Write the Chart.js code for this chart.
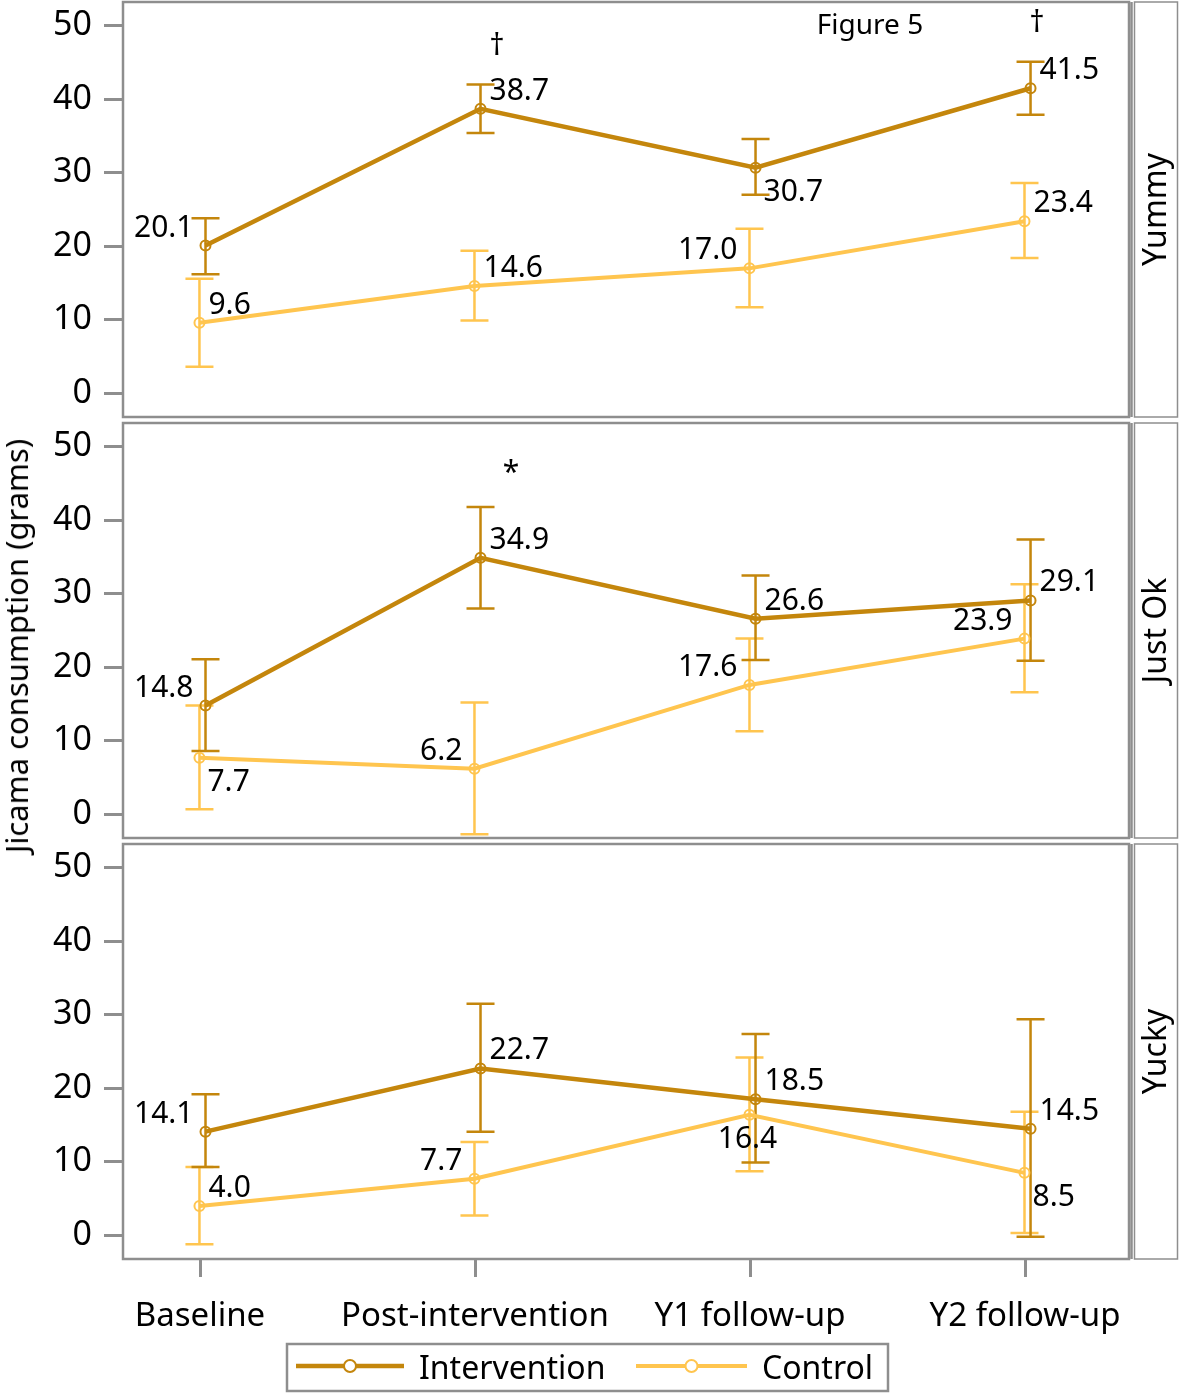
<!DOCTYPE html>
<html lang="en">
<head>
<meta charset="UTF-8">
<title>Figure 5</title>
<script src="https://cdn.jsdelivr.net/npm/chart.js@4.4.1/dist/chart.umd.min.js"></script>
<style>
  body { margin: 0; background: #fff; font-family: "Noto Sans", sans-serif; }
  #wrap { position: relative; width: 1181px; height: 1393px; }
  .panel { position: absolute; left: 0; width: 1181px; }
  #ytitle { position: absolute; left: 16px; top: 646px; transform: translate(-50%, -50%) rotate(-90deg);
            font-size: 31px; white-space: nowrap; color: #000; }
  #fig { position: absolute; left: 870px; top: 23px; transform: translate(-50%, -50%);
         font-size: 28px; white-space: nowrap; color: #000; }
</style>
</head>
<body>
<div id="wrap">
  <div class="panel" style="top:0;height:421px"><canvas id="c0"></canvas></div>
  <div class="panel" style="top:421px;height:421px"><canvas id="c1"></canvas></div>
  <div class="panel" style="top:842px;height:551px"><canvas id="c2"></canvas></div>
  <div id="ytitle">Jicama consumption (grams)</div>
  <div id="fig">Figure 5</div>
</div>

<script>
// categories and tick labels
const categories = ['Baseline', 'Post-intervention', 'Y1 follow-up', 'Y2 follow-up'];
const panelNames = ['Yummy', 'Just Ok', 'Yucky'];
const yTicks = [0, 10, 20, 30, 40, 50];

// Yummy
const yummyInt   = [20.1, 38.7, 30.7, 41.5];
const yummyIntLo = [16.2, 35.4, 27.0, 37.9];
const yummyIntHi = [23.8, 42.0, 34.6, 45.1];
const yummyCtl   = [9.6, 14.6, 17.0, 23.4];
const yummyCtlLo = [3.6, 9.9, 11.7, 18.4];
const yummyCtlHi = [15.6, 19.4, 22.4, 28.6];

// Just Ok
const justOkInt   = [14.8, 34.9, 26.6, 29.1];
const justOkIntLo = [8.6, 28.0, 21.0, 20.9];
const justOkIntHi = [21.1, 41.8, 32.5, 37.4];
const justOkCtl   = [7.7, 6.2, 17.6, 23.9];
const justOkCtlLo = [0.7, -2.7, 11.3, 16.6];
const justOkCtlHi = [14.8, 15.2, 23.9, 31.3];

// Yucky
const yuckyInt   = [14.1, 22.7, 18.5, 14.5];
const yuckyIntLo = [9.3, 14.1, 9.9, -0.2];
const yuckyIntHi = [19.2, 31.5, 27.4, 29.4];
const yuckyCtl   = [4.0, 7.7, 16.4, 8.5];
const yuckyCtlLo = [-1.2, 2.7, 8.7, 0.3];
const yuckyCtlHi = [9.3, 12.7, 24.2, 16.8];

// significance marks: panel, category, symbol
const sigPanel = [0, 0, 1];
const sigCat   = [1, 3, 1];
const sigText  = ['\u2020', '\u2020', '*'];

// ---- styling / layout ----
const FONT = '"Noto Sans", sans-serif';
const intColor = '#c4860c';
const ctlColor = '#ffc54f';
const gray = '#8e8e8e';
const sigNudge = [22, 12, 36];          // px right of the category
// label placement per point (ur, ul, lr, b)
const intPlace = [['ul','ur','lr','ur'], ['ul','ur','ur','ur'], ['ul','ur','ur','ur']];
const ctlPlace = [['ur','ur','ul','ur'], ['lr','ul','ul','ul'], ['ur','ul','b','lr']];

Chart.defaults.font.family = FONT;
Chart.defaults.color = '#000';

const panelData = [
  [yummyInt, yummyIntLo, yummyIntHi, yummyCtl, yummyCtlLo, yummyCtlHi],
  [justOkInt, justOkIntLo, justOkIntHi, justOkCtl, justOkCtlLo, justOkCtlHi],
  [yuckyInt, yuckyIntLo, yuckyIntHi, yuckyCtl, yuckyCtlLo, yuckyCtlHi]
];

const errorBars = {
  id: 'errorBars',
  beforeDatasetsDraw(chart) {
    const {ctx, scales: {x, y}} = chart;
    chart.data.datasets.slice().reverse().forEach(ds => {
      ctx.save();
      ctx.strokeStyle = ds.borderColor;
      ctx.lineWidth = 2.5;
      ds.data.forEach((pt, i) => {
        const px = x.getPixelForValue(pt.x);
        const top = y.getPixelForValue(ds.hi[i]);
        const bot = y.getPixelForValue(ds.lo[i]);
        ctx.beginPath();
        ctx.moveTo(px, top); ctx.lineTo(px, bot);
        ctx.moveTo(px - 14, top); ctx.lineTo(px + 14, top);
        ctx.moveTo(px - 14, bot); ctx.lineTo(px + 14, bot);
        ctx.stroke();
      });
      ctx.restore();
    });
  }
};

const valueLabels = {
  id: 'valueLabels',
  afterDatasetsDraw(chart) {
    const {ctx, scales: {x, y}} = chart;
    ctx.save();
    ctx.font = '30px ' + FONT;
    ctx.fillStyle = '#000';
    ctx.textBaseline = 'alphabetic';
    chart.data.datasets.forEach(ds => {
      ds.data.forEach((pt, i) => {
        const px = x.getPixelForValue(pt.x), py = y.getPixelForValue(pt.y);
        const txt = pt.y.toFixed(1);
        const p = ds.place[i];
        if (p === 'ur') { ctx.textAlign = 'left'; ctx.fillText(txt, px + 9, py - 9); }
        else if (p === 'ul') { ctx.textAlign = 'right'; ctx.fillText(txt, px - 12, py - 9); }
        else if (p === 'lr') { ctx.textAlign = 'left'; ctx.fillText(txt, px + 8, py + 33); }
        else { ctx.textAlign = 'center'; ctx.fillText(txt, px - 2, py + 33); }
      });
    });
    ctx.restore();
  }
};

const sigMarks = {
  id: 'sigMarks',
  afterDatasetsDraw(chart, args, opts) {
    const {ctx, scales: {x, y}} = chart;
    const hi = chart.data.datasets[0].hi;
    ctx.save();
    ctx.font = '30px ' + FONT;
    ctx.fillStyle = '#000';
    ctx.textAlign = 'center';
    sigPanel.forEach((p, k) => {
      if (p !== opts.panel) return;
      const c = sigCat[k];
      const cx = x.getPixelForValue(c) + sigNudge[k];
      const cy = y.getPixelForValue(hi[c]) - 41;
      const m = ctx.measureText(sigText[k]);
      ctx.fillText(sigText[k], cx, cy + (m.actualBoundingBoxAscent - m.actualBoundingBoxDescent) / 2);
    });
    ctx.restore();
  }
};

const frameStrip = {
  id: 'frameStrip',
  afterDraw(chart, args, opts) {
    const {ctx, chartArea: a} = chart;
    ctx.save();
    ctx.strokeStyle = gray;
    ctx.lineWidth = 2.5;
    ctx.strokeRect(a.left, a.top, a.right - a.left, a.bottom - a.top);
    ctx.beginPath();
    ctx.moveTo(a.right + 2.5, a.top); ctx.lineTo(a.right + 2.5, a.bottom);
    ctx.stroke();
    ctx.lineWidth = 1.5;
    ctx.strokeRect(a.right + 5.5, a.top, 43, a.bottom - a.top);
    ctx.fillStyle = '#000';
    ctx.font = '32px ' + FONT;
    ctx.translate(a.right + 28, (a.top + a.bottom) / 2);
    ctx.rotate(-Math.PI / 2);
    ctx.textAlign = 'center';
    ctx.textBaseline = 'middle';
    ctx.fillText(opts.label, 0, 0);
    ctx.restore();
  }
};

const boxLegend = {
  id: 'boxLegend',
  afterDraw(chart) {
    const ctx = chart.ctx;
    ctx.save();
    ctx.strokeStyle = gray;
    ctx.lineWidth = 2.5;
    ctx.strokeRect(287, 502, 601, 47);
    const items = [
      {ds: chart.data.datasets[0], x0: 296, x1: 404, tx: 419},
      {ds: chart.data.datasets[1], x0: 636, x1: 747, tx: 762}
    ];
    items.forEach(it => {
      const ly = 524;
      ctx.strokeStyle = it.ds.borderColor;
      ctx.lineWidth = it.ds.borderWidth;
      ctx.beginPath(); ctx.moveTo(it.x0, ly); ctx.lineTo(it.x1, ly); ctx.stroke();
      ctx.lineWidth = 2;
      ctx.fillStyle = '#fff';
      ctx.beginPath(); ctx.arc((it.x0 + it.x1) / 2, ly, 6, 0, Math.PI * 2); ctx.fill(); ctx.stroke();
      ctx.fillStyle = '#000';
      ctx.font = '32px ' + FONT;
      ctx.textAlign = 'left';
      ctx.textBaseline = 'alphabetic';
      ctx.fillText(it.ds.label, it.tx, 537);
    });
    ctx.restore();
  }
};

// no extra room for tick labels hanging past the plot edges
function noOverflow(s) {
  s.paddingTop = 0; s.paddingBottom = 0; s.paddingLeft = 0; s.paddingRight = 0;
}

function makePanel(idx) {
  const [iv, ilo, ihi, cv, clo, chi] = panelData[idx];
  const isBottom = idx === 2;
  const pts = (vals, shift) => vals.map((v, i) => ({x: i + shift, y: v}));
  const plugins = [errorBars, valueLabels, sigMarks, frameStrip];
  if (isBottom) plugins.push(boxLegend);
  return new Chart(document.getElementById('c' + idx), {
    type: 'line',
    data: {
      datasets: [
        { label: 'Intervention', data: pts(iv, 0.02), lo: ilo, hi: ihi, place: intPlace[idx],
          borderColor: intColor, borderWidth: 4.5, pointRadius: 5, pointBorderWidth: 2,
          pointBorderColor: intColor, pointBackgroundColor: 'rgba(255,255,255,0)', tension: 0 },
        { label: 'Control', data: pts(cv, -0.002), lo: clo, hi: chi, place: ctlPlace[idx],
          borderColor: ctlColor, borderWidth: 4, pointRadius: 5, pointBorderWidth: 2,
          pointBorderColor: ctlColor, pointBackgroundColor: 'rgba(255,255,255,0)', tension: 0 }
      ]
    },
    options: {
      responsive: true,
      maintainAspectRatio: false,
      animation: false,
      events: [],
      layout: { autoPadding: false, padding: { top: 2, right: 52, bottom: isBottom ? 0 : 4, left: 0 } },
      plugins: {
        legend: { display: false },
        tooltip: { enabled: false },
        frameStrip: { label: panelNames[idx] },
        sigMarks: { panel: idx }
      },
      scales: {
        x: {
          type: 'linear', min: -0.28, max: 3.378, display: isBottom,
          afterBuildTicks: s => { s.ticks = categories.map((c, i) => ({value: i})); },
          afterFit: s => { s.height = isBottom ? 134 : 0; noOverflow(s); },
          ticks: { callback: v => categories[v], font: {size: 33}, color: '#000',
                   padding: 20, maxRotation: 0, autoSkip: false },
          grid: { drawOnChartArea: false, drawTicks: true, tickLength: 18, color: gray, lineWidth: 3 },
          border: { display: false }
        },
        y: {
          min: -3.22, max: 53.23,
          afterBuildTicks: s => { s.ticks = yTicks.map(v => ({value: v})); },
          afterFit: s => { s.width = 123; noOverflow(s); },
          ticks: { font: {size: 34}, color: '#000', padding: 12 },
          grid: { drawOnChartArea: false, drawTicks: true, tickLength: 19, color: gray, lineWidth: 3 },
          border: { display: false }
        }
      }
    },
    plugins: plugins
  });
}

[0, 1, 2].forEach(makePanel);
</script>
</body>
</html>
